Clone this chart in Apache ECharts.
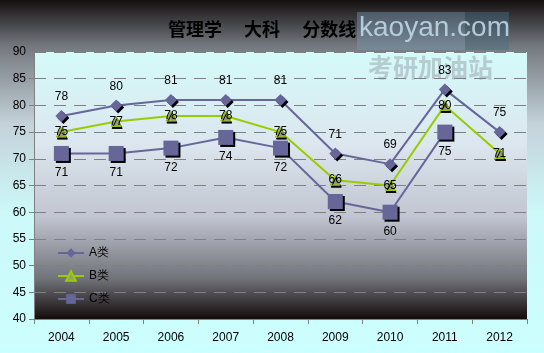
<!DOCTYPE html>
<html>
<head>
<meta charset="utf-8">
<script src="https://cdn.jsdelivr.net/npm/echarts@6/dist/echarts.min.js"></script>
<style>
  html, body { margin: 0; padding: 0; }
  #chart { width: 544px; height: 353px; }
</style>
</head>
<body>
<div id="chart"></div>
<script>
  // 年份
  var years = ['2004', '2005', '2006', '2007', '2008', '2009', '2010', '2011', '2012']
  // A类 / B类 / C类 分数线
  var scoreA = [78, 80, 81, 81, 81, 71, 69, 83, 75]
  var scoreB = [75, 77, 78, 78, 75, 66, 65, 80, 71]
  var scoreC = [71, 71, 72, 74, 72, 62, 60, 75, null]

  var myChart = echarts.init(document.getElementById('chart'))
  var labelFont = { color: '#000', fontSize: 12, fontFamily: 'Liberation Sans' }

  myChart.setOption({
    animation: false,
    backgroundColor: {
      type: 'linear', x: 0, y: 0, x2: 0, y2: 1,
      colorStops: [
        { offset: 0, color: '#141010' },
        { offset: 0.13, color: '#74787e' },
        { offset: 0.35, color: '#c4d2da' },
        { offset: 0.6, color: '#ccf8f8' },
        { offset: 1, color: '#ccffff' }
      ]
    },
    title: {
      text: '管理学　 大科　 分数线',
      left: 163,
      top: 15,
      z: 10,
      textStyle: { fontSize: 18, fontWeight: 'bold', color: '#000', fontFamily: 'Noto Sans CJK SC' }
    },
    // 水印
    graphic: [
      {
        type: 'rect', left: 357, top: 12, shape: { width: 108, height: 38 },
        style: { fill: 'rgba(120,150,175,0.45)' }, z: 0
      },
      {
        type: 'rect', left: 465, top: 12, shape: { width: 44, height: 38 },
        style: { fill: 'rgba(70,110,130,0.45)' }, z: 0
      },
      {
        type: 'text', left: 359, top: 14,
        style: { text: 'kaoyan.com', fill: 'rgba(195,220,235,0.85)', font: '28px "Liberation Sans"' }, z: 0
      },
      {
        type: 'text', left: 368, top: 55,
        style: { text: '考研加油站', fill: 'rgba(150,160,170,0.5)', font: 'bold 25px "Noto Sans CJK SC"' }, z: 0
      }
    ],
    grid: {
      left: 34, right: 17, top: 52, bottom: 34,
      show: true,
      borderWidth: 0,
      backgroundColor: {
        type: 'linear', x: 0, y: 0, x2: 0, y2: 1,
        colorStops: [
          { offset: 0, color: '#d4fafa' },
          { offset: 0.35, color: '#dce6ee' },
          { offset: 0.62, color: '#c0c4d0' },
          { offset: 0.85, color: '#707278' },
          { offset: 1, color: '#140c0c' }
        ]
      }
    },
    legend: {
      orient: 'vertical',
      left: 52, top: 242,
      itemWidth: 26, itemHeight: 12,
      itemGap: 11,
      textStyle: { color: '#000', fontSize: 12, fontFamily: 'Liberation Sans' },
      data: ['A类', 'B类', 'C类']
    },
    xAxis: {
      type: 'category',
      data: years,
      boundaryGap: true,
      axisLine: { lineStyle: { color: '#808080' } },
      axisTick: { show: true, lineStyle: { color: '#808080' } },
      axisLabel: { color: '#000', fontSize: 12, fontFamily: 'Liberation Sans', margin: 13 }
    },
    yAxis: {
      type: 'value',
      min: 40, max: 90, interval: 5,
      axisLine: { show: true, lineStyle: { color: '#808080' } },
      axisTick: { show: true, lineStyle: { color: '#808080' } },
      axisLabel: { color: '#000', fontSize: 12, fontFamily: 'Liberation Sans', margin: 8 },
      splitLine: { lineStyle: { color: '#808080', type: [12, 8], width: 1 } }
    },
    series: [
      {
        name: 'A类', type: 'line', data: scoreA,
        symbol: 'diamond', symbolSize: 12,
        lineStyle: { color: '#666699', width: 2 },
        itemStyle: { color: '#666699', shadowColor: '#000', shadowOffsetX: 2, shadowOffsetY: 2, shadowBlur: 0 },
        label: Object.assign({ show: true, position: 'top', distance: 7 }, labelFont),
        z: 3
      },
      {
        name: 'B类', type: 'line', data: scoreB,
        symbol: 'triangle', symbolSize: 10,
        lineStyle: { color: '#99cc00', width: 2 },
        itemStyle: { color: '#999980', borderColor: '#99cc00', borderWidth: 1, shadowColor: '#000', shadowOffsetX: 1, shadowOffsetY: 2, shadowBlur: 0 },
        label: Object.assign({ show: true, position: 'inside' }, labelFont),
        z: 4
      },
      {
        name: 'C类', type: 'line', data: scoreC,
        symbol: 'rect', symbolSize: 15,
        lineStyle: { color: '#666699', width: 2 },
        itemStyle: { color: '#666699', shadowColor: '#000', shadowOffsetX: 2, shadowOffsetY: 2, shadowBlur: 0 },
        label: Object.assign({ show: true, position: 'bottom', distance: 6 }, labelFont),
        z: 2
      }
    ]
  })
</script>
</body>
</html>
